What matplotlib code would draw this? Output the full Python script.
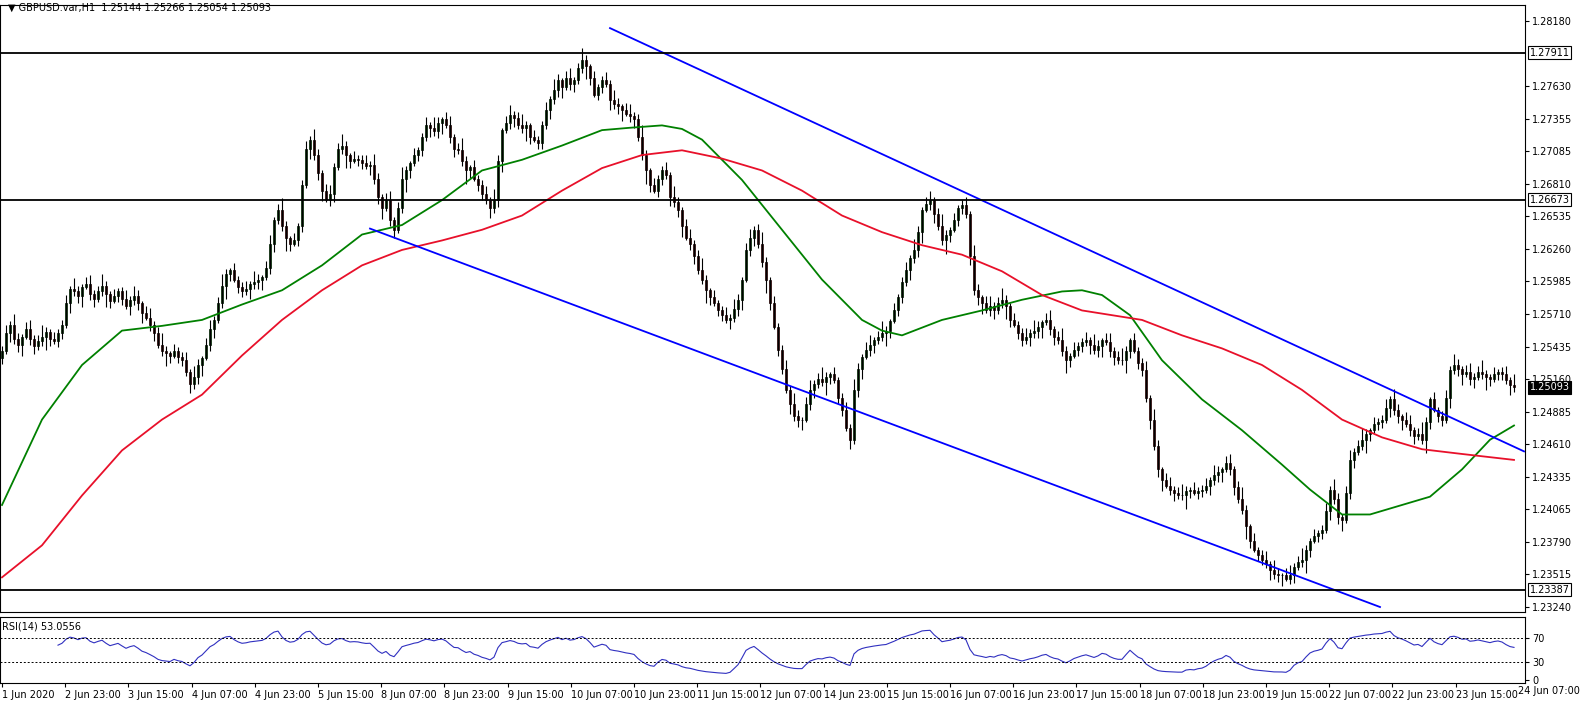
import numpy as np
import matplotlib
matplotlib.use("Agg")
import matplotlib.pyplot as plt

BASE = 1.2300
closes_pips = [
240,255,262,250,245,252,258,250,244,248,252,256,250,248,255,262,280,292,290,286,294,296,288,284,290,295,288,282,286,290,284,278,283,286,280,272,268,262,255,245,
240,238,236,240,235,232,222,212,218,228,234,245,258,266,280,295,305,308,300,294,290,292,296,298,300,302,310,330,350,359,345,335,330,333,345,380,410,418,405,390,
375,367,372,395,410,413,405,400,402,401,398,396,397,385,370,360,367,350,342,360,385,392,398,405,409,420,430,428,425,432,435,430,420,410,409,400,392,395,385,380,
372,367,360,367,400,426,432,439,436,430,428,430,420,418,415,430,443,452,460,468,462,470,465,468,478,485,480,470,456,462,468,465,451,448,446,443,440,438,435,420,
405,392,380,375,385,392,388,370,365,359,345,335,330,320,308,300,291,285,280,274,270,266,268,275,283,300,325,335,342,330,315,300,280,260,241,225,207,195,185,182,
182,195,207,212,216,214,218,220,215,200,190,175,165,207,225,235,241,245,249,252,255,257,265,274,285,298,308,318,325,340,359,364,367,355,345,333,338,342,350,360,
363,355,320,291,285,280,274,278,274,280,283,278,266,262,255,249,252,255,257,260,264,266,258,252,249,240,232,236,241,244,247,249,245,241,244,249,247,240,235,232,
232,240,249,240,230,224,200,182,160,140,131,126,123,120,118,118,122,123,120,122,123,126,131,135,138,140,145,140,125,115,106,92,80,72,68,64,60,55,52,51,
51,48,51,58,62,64,72,80,84,86,89,105,123,115,100,97,120,148,155,160,165,170,173,178,180,182,192,199,190,185,182,178,173,168,170,165,180,199,190,185,
182,200,224,228,225,220,222,216,218,222,220,218,216,220,222,220,215,211,209.3]
wick_up = [4,7,3,9,5,2,6,8,3,5,10,4,2,6,3]
wick_dn = [5,3,8,4,6,9,2,5,7,3,4,11,6,2,5]

green_x = [0,10,20,30,40,50,60,70,80,90,100,110,120,130,140,150,157,165,170,175,185,195,205,215,220,225,235,245,255,265,270,275,282,290,300,310,320,327,335,342,350,357,365,372,378]
green_p = [110,182,228,257,261,266,279,291,312,338,346,367,392,401,413,426,428,430,427,418,384,342,300,266,257,253,266,274,283,290,291,287,270,232,199,173,144,123,102,102,110,117,140,165,177]
red_x = [0,10,20,30,40,50,60,70,80,90,100,110,120,130,140,150,160,170,180,190,200,210,220,230,240,250,260,270,285,295,305,315,325,335,345,355,365,378]
red_p = [49,76,118,156,182,203,236,266,291,312,325,333,342,354,375,394,405,409,402,392,375,354,340,329,321,307,287,274,266,253,242,228,207,182,167,157,153,148]

hlines = [1.27911, 1.26673, 1.23387]
upper_line = [(152, 1.2812), (380.5, 1.24552)]
lower_line = [(92, 1.2643), (344.5, 1.23240)]
yticks = [1.28180,1.27630,1.27355,1.27085,1.26810,1.26535,1.26260,1.25985,1.25710,1.25435,1.25160,1.24885,1.24610,1.24335,1.24065,1.23790,1.23515,1.23240]
xlabels = ["1 Jun 2020","2 Jun 23:00","3 Jun 15:00","4 Jun 07:00","4 Jun 23:00","5 Jun 15:00","8 Jun 07:00","8 Jun 23:00","9 Jun 15:00","10 Jun 07:00","10 Jun 23:00","11 Jun 15:00","12 Jun 07:00","14 Jun 23:00","15 Jun 15:00","16 Jun 07:00","16 Jun 23:00","17 Jun 15:00","18 Jun 07:00","18 Jun 23:00","19 Jun 15:00","22 Jun 07:00","22 Jun 23:00","23 Jun 15:00","24 Jun 07:00"]

c = BASE + np.array(closes_pips) / 10000.0
n = len(c)
o = np.concatenate([[c[0] - 0.0006], c[:-1]])
wu = np.array([wick_up[i % len(wick_up)] for i in range(n)]) / 10000.0
wd = np.array([wick_dn[i % len(wick_dn)] for i in range(n)]) / 10000.0
h = np.maximum(o, c) + wu
l = np.minimum(o, c) - wd

fig = plt.figure(figsize=(15.89, 7.03), dpi=100)
W, H = 1589, 703
ax = fig.add_axes([0, 1 - 612 / H, 1525 / W, 607 / H])
ax2 = fig.add_axes([0, 1 - 683 / H, 1525 / W, 66 / H])
xl = (-0.5, 380.75)
ymin, ymax = 1.2818 - (612 - 21) * 0.0494 / 586, 1.2818 + 16 * 0.0494 / 586

idx = np.arange(n)
ax.vlines(idx, l, h, color='black', lw=0.8)
up = c >= o
ax.bar(idx[up], (c - o)[up], bottom=o[up], width=0.7, color='#00c000', edgecolor='black', lw=0.5)
ax.bar(idx[~up], (o - c)[~up], bottom=c[~up], width=0.7, color='#c00000', edgecolor='black', lw=0.5)

ax.plot(green_x, BASE + np.array(green_p) / 10000, color='#008000', lw=1.3)
ax.plot(red_x, BASE + np.array(red_p) / 10000, color='#e8102a', lw=1.3)
for (x0, y0), (x1, y1) in [upper_line, lower_line]:
    ax.plot([x0, x1], [y0, y1], color='#0000ff', lw=1.3)
for hl in hlines:
    ax.axhline(hl, color='black', lw=1.3)
ax.set_xlim(*xl); ax.set_ylim(ymin, ymax)
ax.yaxis.tick_right()
ax.set_yticks(yticks)
ax.set_yticklabels([f"{v:.5f}" for v in yticks], fontsize=7)
ax.set_xticks([])
ax.tick_params(axis='y', length=3, pad=2)
for v in hlines + [c[-1]]:
    ax.text(1.003, (v - ymin) / (ymax - ymin), f"{v:.5f}", transform=ax.transAxes, fontsize=7,
            color='white' if v == c[-1] else 'black', va='center', ha='left',
            bbox=dict(boxstyle='square,pad=0.15', fc='black' if v == c[-1] else 'white', ec='black', lw=0.8))
fig.text(8 / W, 1 - 8 / H, "▼ GBPUSD.var,H1  1.25144 1.25266 1.25054 1.25093", fontsize=7, va='center')

# RSI(14)
d = np.diff(c)
g = np.where(d > 0, d, 0); ls = np.where(d < 0, -d, 0)
ag = np.zeros(n); al = np.zeros(n)
ag[14] = g[:14].mean(); al[14] = ls[:14].mean()
for i in range(15, n):
    ag[i] = (ag[i-1] * 13 + g[i-1]) / 14
    al[i] = (al[i-1] * 13 + ls[i-1]) / 14
rsi = np.full(n, np.nan)
rsi[14:] = 100 - 100 / (1 + ag[14:] / np.maximum(al[14:], 1e-9))
ax2.plot(idx, rsi, color='#3030c0', lw=0.8)
ax2.axhline(70, color='black', lw=0.7, ls=(0, (2, 2)))
ax2.axhline(30, color='black', lw=0.7, ls=(0, (2, 2)))
ax2.set_xlim(*xl); ax2.set_ylim(-5, 105)
ax2.yaxis.tick_right()
ax2.set_yticks([0, 30, 70]); ax2.set_yticklabels(['0', '30', '70'], fontsize=7)
ax2.tick_params(axis='y', length=3, pad=2)
ax2.text(2 / 1525, 0.85, "RSI(14) 53.0556", transform=ax2.transAxes, fontsize=7, va='center')
nt = len(xlabels) - 1
ax2.set_xticks([15.8 * k for k in range(nt)])
ax2.set_xticklabels(xlabels[:nt], fontsize=7, ha='left')
ax2.tick_params(axis='x', length=3, pad=2)
fig.text(1518 / W, 1 - 691 / H, xlabels[-1], fontsize=7, va='center', ha='left')
for a in (ax, ax2):
    for s in a.spines.values():
        s.set_linewidth(0.8)
fig.savefig("out.png", dpi=100)
